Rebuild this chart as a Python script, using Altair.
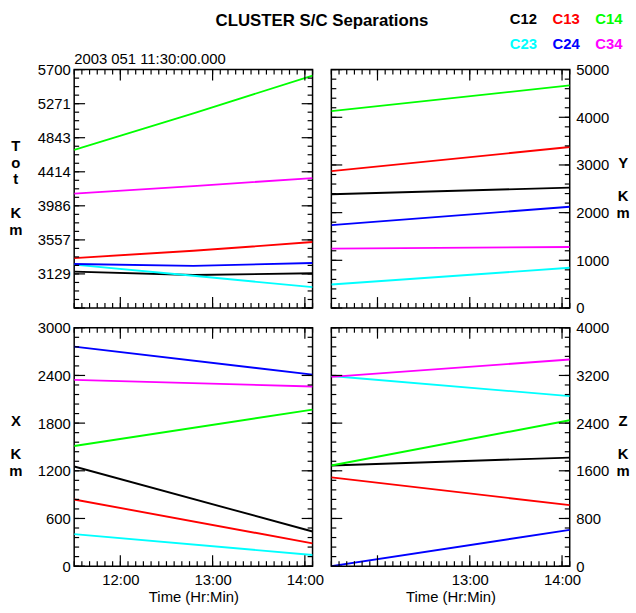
import altair as alt
import numpy as np
import pandas as pd

# Spacecraft pairs and their line colours
pairs = ["C12", "C13", "C14", "C23", "C24", "C34"]
pair_colors = ["#000000", "#ff0000", "#00ff00", "#00ffff", "#0000ff", "#ff00ff"]

# Sample times (2003 day 051 = 20 February)
times_tot = ["2003-02-20T11:30:00", "2003-02-20T12:47:30", "2003-02-20T14:05:00"]
times_xyz = ["2003-02-20T11:30:00", "2003-02-20T14:05:00"]

# Total separation (km), one entry per pair
tot_start = [3158, 3328, 4689, 3246, 3253, 4140]
tot_mid = [3115, 3420, 5150, 3105, 3230, 4233]
tot_end = [3137, 3530, 5625, 2962, 3266, 4335]

# Separation components (km), one entry per pair
y_start = [2386, 2871, 4129, 492, 1737, 1245]
y_end = [2525, 3376, 4668, 844, 2124, 1280]
x_start = [1254, 839, 1512, 403, 2763, 2344]
x_end = [436, 287, 1970, 141, 2410, 2261]
z_start = [1689, 1490, 1689, 3190, 0, 3175]
z_end = [1822, 1024, 2449, 2853, 609, 3468]

# Axis ticks
tot_ticks = [2700, 3129, 3557, 3986, 4414, 4843, 5271, 5700]
y_ticks = [0, 1000, 2000, 3000, 4000, 5000]
x_ticks = [0, 600, 1200, 1800, 2400, 3000]
z_ticks = [0, 800, 1600, 2400, 3200, 4000]
hour_ticks = [12, 13, 14]

title_text = "CLUSTER S/C Separations"
epoch_text = "2003 051 11:30:00.000"
time_title = "Time (Hr:Min)"

# Stacked (one letter per row) y-axis titles; "" leaves an empty row
tot_title = ["T", "o", "t", "", "K", "m"]
y_title = ["Y", "", "K", "m"]
x_title = ["X", "", "K", "m"]
z_title = ["Z", "", "K", "m"]

W = H = 241
MAJOR, MINOR = 11, 5
LINE_H = 17
FONT = "Liberation Sans"


def dt(h, m=0):
    return alt.DateTime(year=2003, month=2, date=20, hours=h, minutes=m)


x_scale = alt.Scale(domain=[dt(11, 30), dt(14, 5)], nice=False)
color_scale = alt.Scale(domain=pairs, range=pair_colors)

minute_ticks = pd.date_range("2003-02-20 11:30", "2003-02-20 14:05", freq="5min")
minor_times = pd.DataFrame({"t": minute_ticks.strftime("%Y-%m-%dT%H:%M:%S")})
major_times = pd.DataFrame({"t": [f"2003-02-20T{h}:00:00" for h in hour_ticks]})


def long_frame(times, columns):
    rows = []
    for i, p in enumerate(pairs):
        for t, col in zip(times, columns):
            rows.append({"pair": p, "time": t, "km": col[i]})
    return pd.DataFrame(rows)


def label(text, x, y, size=15, weight="normal", color="black",
          align="center", baseline="alphabetic"):
    return alt.Chart(pd.DataFrame({"s": [text]})).mark_text(
        font=FONT, fontSize=size, fontWeight=weight, color=color,
        align=align, baseline=baseline,
    ).encode(text="s:N", x=alt.value(x), y=alt.value(y))


def panel(data, ticks, label_ticks, fmt, side, title_lines, x_labels, n_sub):
    lo, hi = ticks[0], ticks[-1]
    y_scale = alt.Scale(domain=[lo, hi], nice=False, zero=False)
    y_axis = alt.Axis(
        orient=side, values=label_ticks, format=fmt, domain=False, ticks=False,
        grid=False, labelFont=FONT, labelFontSize=15, labelColor="black",
        labelPadding=4 if side == "left" else 6, labelOverlap=False, title="",
    )
    if x_labels:
        x_axis = alt.Axis(
            values=[dt(h) for h in x_labels], format="%H:%M", domain=False,
            ticks=False, grid=False, labelFont=FONT, labelFontSize=15,
            labelColor="black", labelPadding=7, labelFlush=False,
            labelOverlap=False, title=time_title, titleFont=FONT,
            titleFontSize=15, titleFontWeight="normal", titleColor="black",
            titlePadding=2,
        )
    else:
        x_axis = None

    lines = alt.Chart(data).mark_line(strokeWidth=1.9, clip=True).encode(
        x=alt.X("time:T", scale=x_scale, axis=x_axis),
        y=alt.Y("km:Q", scale=y_scale, axis=y_axis),
        color=alt.Color("pair:N", scale=color_scale, legend=None),
    )

    # Inward tick marks on all four sides of the frame
    minor_v = pd.DataFrame({"v": np.linspace(lo, hi, (len(ticks) - 1) * n_sub + 1)})
    major_v = pd.DataFrame({"v": ticks})
    layers = [lines]
    for frame, size in ((minor_v, MINOR), (major_v, MAJOR)):
        base = alt.Chart(frame).mark_rule(color="black", strokeWidth=1.2).encode(
            y=alt.Y("v:Q", scale=y_scale, axis=y_axis)
        )
        layers.append(base.encode(x=alt.value(0), x2=alt.value(size)))
        layers.append(base.encode(x=alt.value(W), x2=alt.value(W - size)))
    for frame, size in ((minor_times, MINOR), (major_times, MAJOR)):
        base = alt.Chart(frame).mark_rule(color="black", strokeWidth=1.2).encode(
            x=alt.X("t:T", scale=x_scale, axis=x_axis)
        )
        layers.append(base.encode(y=alt.value(0), y2=alt.value(size)))
        layers.append(base.encode(y=alt.value(H), y2=alt.value(H - size)))

    # Stacked axis title, one letter per row, centred on the panel height
    tx = -59 if side == "left" else W + 54
    first_row = H / 2 - (len(title_lines) - 1) * LINE_H / 2 - 1
    for k, ch in enumerate(title_lines):
        if ch:
            layers.append(label(ch, tx, first_row + k * LINE_H, weight="bold",
                                baseline="middle"))
    return layers


tot_layers = panel(long_frame(times_tot, [tot_start, tot_mid, tot_end]),
                   tot_ticks, tot_ticks[1:], ".0f", "left", tot_title, None, 4)

# Heading, epoch label and colour key drawn above the first panel
tot_layers.append(label(title_text, W + 9.5, -44, size=17, weight="bold"))
tot_layers.append(label(epoch_text, 0, -6, align="left"))
for i, (p, c) in enumerate(zip(pairs, pair_colors)):
    col, row = i % 3, i // 3
    tot_layers.append(label(p, 440.4 + col * 43.2, -45.7 + row * 25,
                            weight="bold", color=c, align="left"))

top_left = alt.layer(*tot_layers).properties(width=W, height=H)
top_right = alt.layer(*panel(long_frame(times_xyz, [y_start, y_end]), y_ticks,
                             y_ticks, "d", "right", y_title, None, 5)
                      ).properties(width=W, height=H)
bottom_left = alt.layer(*panel(long_frame(times_xyz, [x_start, x_end]), x_ticks,
                               x_ticks, "d", "left", x_title, hour_ticks, 5)
                        ).properties(width=W, height=H)
bottom_right = alt.layer(*panel(long_frame(times_xyz, [z_start, z_end]), z_ticks,
                                z_ticks, "d", "right", z_title, hour_ticks[1:], 5)
                         ).properties(width=W, height=H)

chart = alt.concat(
    top_left, top_right, bottom_left, bottom_right,
    columns=2, spacing={"row": 20, "column": 19}, bounds="flush",
).properties(
    padding={"left": 8, "top": 8, "right": 5, "bottom": 5},
    background="white",
).configure_view(stroke="black", strokeWidth=1.5)

chart.save("out.html", embed_options={"renderer": "svg", "actions": False})
